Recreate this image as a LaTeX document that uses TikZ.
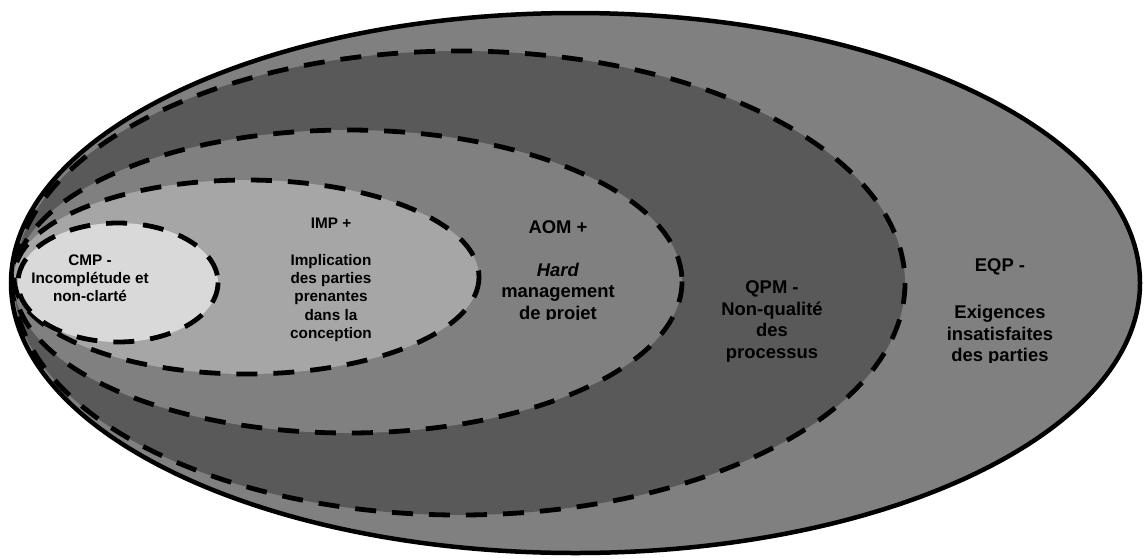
\documentclass[tikz,border=0pt]{standalone}
\usepackage{fontspec}
\setmainfont{Liberation Sans}
\definecolor{zoneMid}{HTML}{808080}
\definecolor{zoneDark}{HTML}{595959}
\definecolor{zoneLight}{HTML}{A6A6A6}
\definecolor{zonePale}{HTML}{D9D9D9}
\begin{document}
\begin{tikzpicture}[x=1pt,y=-1pt,
  rim/.style={line width=4.5pt},
  zone/.style={line width=4.8pt, dash pattern=on 21pt off 16pt},
  % multi-line labels are placed by the baseline of their last line
  lbl/.style={align=center, inner sep=0pt, anchor=base, text=black},
  smalltext/.style={lbl, font=\fontsize{15.3}{18.3}\selectfont\bfseries},
  bigtext/.style={lbl, font=\fontsize{18.4}{21.4}\selectfont\bfseries}]
\useasboundingbox (0,0) rectangle (1144,558);

% nested zones, outermost first
\filldraw[rim,  fill=zoneMid]   (575.5,283)  ellipse [x radius=564.5, y radius=270];
\filldraw[zone, fill=zoneDark]  (459.5,283)  ellipse [x radius=445.5, y radius=232];
\filldraw[zone, fill=zoneMid]   (348,281.5)  ellipse [x radius=334,   y radius=151.5];
\filldraw[zone, fill=zoneLight] (246.5,277)  ellipse [x radius=232.5, y radius=97];
\filldraw[zone, fill=zonePale]  (118,282.5)  ellipse [x radius=100,   y radius=59.5];

% zone labels (the two last text boxes are cut off at their bottom edge)
\node[smalltext] (cmp) at (90,301.7) {CMP -\\Incomplétude et\\non-clarté};
\node[smalltext] (imp) at (331,338.5) {IMP +\\[18.3pt]Implication\\des parties\\prenantes\\dans la\\conception};
\begin{scope}
  \clip (420,150) rectangle (680,319.8);
  \node[bigtext] (aom) at (558,319) {AOM +\\[21.4pt]\textit{Hard}\\management\\de projet};
\end{scope}
\node[bigtext] (qpm) at (772,358) {QPM -\\Non-qualité\\des\\processus};
\begin{scope}
  \clip (900,200) rectangle (1100,362.6);
  \node[bigtext] (eqp) at (1000,361.7) {EQP -\\[26.3pt]Exigences\\insatisfaites\\des parties};
\end{scope}
\end{tikzpicture}
\end{document}
